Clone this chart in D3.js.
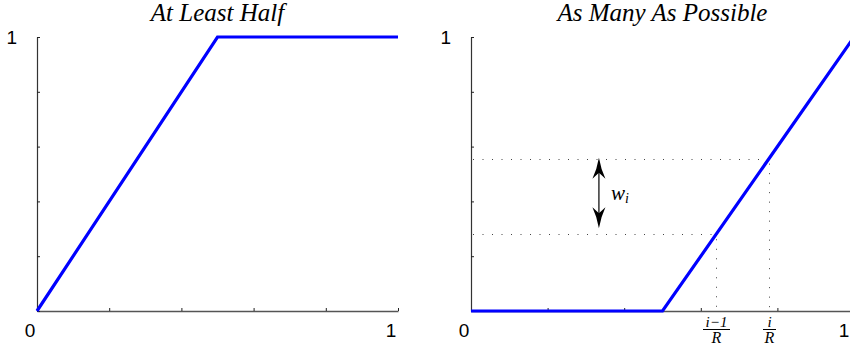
<!DOCTYPE html>
<html>
<head>
<meta charset="utf-8">
<script src="https://cdn.jsdelivr.net/npm/d3@7"></script>
</head>
<body style="margin:0">
<script>
// ---- data ----
const tickValues = [0, 0.2, 0.4, 0.6, 0.8, 1];
const xTickLabels = ["0", "1"];           // labels shown at 0 and 1
const yTickLabels = ["1"];                // label shown at 1
const titles = ["At Least Half", "As Many As Possible"];
const leftX = [0, 0.5, 1];
const leftY = [0, 1, 1];
const rightX = [0, 0.5, 1];
const rightY = [0, 0, 1];
const markX = [0.64, 0.778];              // (i-1)/R , i/R
const markY = [0.28, 0.556];              // curve values at those points
const arrowX = 0.334;

const W = 850, H = 354;
const svg = d3.select("body").append("svg").attr("width", W).attr("height", H);

const SANS = "Liberation Sans";
const SERIF = "Liberation Serif";

// text helper: font set as attribute and style, anchoring done by measuring
function txt(x, y, s, fam, size, italic, anchor) {
  const t = svg.append("text").attr("y", y)
    .attr("font-family", fam).style("font-family", `"${fam}"`)
    .attr("font-size", size).style("font-size", size + "px");
  if (italic) t.attr("font-style", "italic").style("font-style", "italic");
  t.text(s);
  let w = 0;
  try { w = t.node().getComputedTextLength(); } catch (e) { w = 0; }
  let xx = x;
  if (anchor === "middle") xx = x - w / 2;
  else if (anchor === "end") xx = x - w;
  t.attr("x", xx);
  return t;
}

const panels = [
  {x0: 37, x1: 398, xs: leftX, ys: leftY, title: titles[0]},
  {x0: 471, x1: 854, xs: rightX, ys: rightY, title: titles[1]}
];
const yTop = 37, yBot = 311;

const scales = panels.map((p, pi) => {
  const x = d3.scaleLinear().domain([0, 1]).range([p.x0, p.x1]);
  const y = d3.scaleLinear().domain([0, 1]).range([yBot, yTop]);
  const g = svg.append("g");

  // x axis
  const xa = d3.axisBottom(x).tickValues(tickValues).tickSizeInner(-3).tickSizeOuter(0).tickFormat("");
  const gx = g.append("g").attr("transform", `translate(0,${yBot})`).call(xa)
    .attr("font-family", null).attr("font-size", null);
  gx.selectAll("text").remove();
  gx.select(".domain").attr("stroke", "#555").attr("stroke-width", 1.3);
  gx.selectAll(".tick line").attr("stroke", "#222");

  // y axis
  const ya = d3.axisLeft(y).tickValues(tickValues).tickSizeInner(-3).tickSizeOuter(0).tickFormat("");
  const gy = g.append("g").attr("transform", `translate(${p.x0},0)`).call(ya)
    .attr("font-family", null).attr("font-size", null);
  gy.selectAll("text").remove();
  gy.select(".domain").attr("stroke", "#333").attr("stroke-width", 1.2);
  gy.selectAll(".tick line").attr("stroke", "#222");

  return {x, y, g, p};
});

// dotted guides on right panel
const R = scales[1];
const dotted = R.g.append("g").attr("stroke", "#444").attr("stroke-width", 1)
  .attr("stroke-dasharray", "1,8.5").attr("fill", "none");
markX.forEach((mx, i) => {
  dotted.append("line").attr("x1", R.x(0) + 2).attr("x2", R.x(mx))
    .attr("y1", Math.round(R.y(markY[i])) + 0.5).attr("y2", Math.round(R.y(markY[i])) + 0.5);
  dotted.append("line").attr("x1", Math.round(R.x(mx)) + 0.5).attr("x2", Math.round(R.x(mx)) + 0.5)
    .attr("y1", R.y(markY[i]) + 5).attr("y2", R.y(0));
});

// blue curves
panels.forEach((p, i) => {
  const s = scales[i];
  const line = d3.line().x(d => s.x(d[0])).y(d => s.y(d[1]));
  s.g.append("path").datum(p.xs.map((v, k) => [v, p.ys[k]]))
    .attr("d", line).attr("fill", "none").attr("stroke", "#0000ff")
    .attr("stroke-width", 3.2).attr("stroke-linejoin", "miter");
});

// double arrow
const ax = R.x(arrowX);
const yA = R.y(markY[1]) - 1, yB = R.y(markY[0]) - 6;
R.g.append("line").attr("x1", ax).attr("x2", ax).attr("y1", yA + 10).attr("y2", yB - 10)
  .attr("stroke", "#000").attr("stroke-width", 1.2);
function head(tipY, dir) {
  const L = 21, hw = 6.5, notch = 15;
  const pth = d3.path();
  pth.moveTo(ax, tipY);
  pth.quadraticCurveTo(ax + 2, tipY + dir * L * 0.55, ax + hw, tipY + dir * L);
  pth.lineTo(ax, tipY + dir * notch);
  pth.lineTo(ax - hw, tipY + dir * L);
  pth.quadraticCurveTo(ax - 2, tipY + dir * L * 0.55, ax, tipY);
  pth.closePath();
  R.g.append("path").attr("d", pth.toString()).attr("fill", "#000");
}
head(yA, 1);
head(yB, -1);

// texts: tick labels and titles
scales.forEach(s => {
  const p = s.p;
  txt(s.x(0) - 7, 337, xTickLabels[0], SANS, 19, false, "middle");
  txt(Math.min(s.x(1) - 7, W - 6), 337, xTickLabels[1], SANS, 19, false, "middle");
  txt(p.x0 - 20, s.y(1) + 7, yTickLabels[0], SANS, 19, false, "end");
  txt((p.x0 + p.x1) / 2, 21, p.title, SERIF, 25, true, "middle");
});

// w_i label (separate texts, no tspans)
const wT = txt(ax + 12, 200, "w", SERIF, 21, true, null);
let wW = 14;
try { wW = wT.node().getComputedTextLength(); } catch (e) {}
txt(ax + 12 + wW, 203, "i", SERIF, 14, true, null);

// fraction tick labels
const fracs = [{num: "i\u22121", den: "R", v: markX[0], bw: 27}, {num: "i", den: "R", v: markX[1], bw: 13}];
fracs.forEach(f => {
  const cx = Math.round(R.x(f.v)) + 0.5;
  txt(cx, 327, f.num, SERIF, 15, true, "middle");
  R.g.append("line").attr("x1", cx - f.bw / 2).attr("x2", cx + f.bw / 2)
    .attr("y1", 329.5).attr("y2", 329.5).attr("stroke", "#000").attr("stroke-width", 1);
  txt(cx, 343, f.den, SERIF, 16, true, "middle");
});
</script>
</body>
</html>
